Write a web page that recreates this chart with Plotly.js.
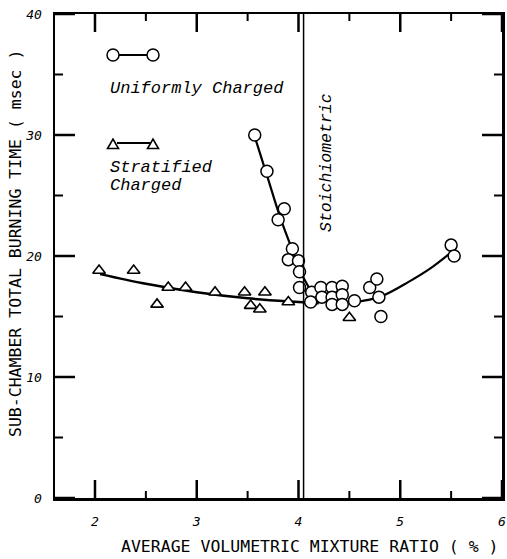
<!DOCTYPE html>
<html>
<head>
<meta charset="utf-8">
<script src="https://cdn.plot.ly/plotly-3.0.1.min.js"></script>
<style>html,body{margin:0;padding:0;background:#fff;}#chart{width:507px;height:559px;}</style>
</head>
<body>
<div id="chart"></div>
<script>
// Uniformly charged (circles)
var uniformX = [3.57, 3.69, 3.86, 3.80, 3.94, 3.90, 4.00, 4.01, 4.01, 4.13, 4.12, 4.22, 4.33, 4.43, 4.23, 4.33, 4.43, 4.33, 4.43, 4.55, 4.70, 4.77, 4.79, 4.81, 5.50, 5.53];
var uniformY = [30.0, 27.0, 23.9, 23.0, 20.6, 19.7, 19.6, 18.7, 17.4, 17.0, 16.2, 17.4, 17.4, 17.5, 16.6, 16.6, 16.8, 16.0, 16.0, 16.3, 17.4, 18.1, 16.6, 15.0, 20.9, 20.0];
// Stratified charged (triangles)
var stratX = [2.04, 2.38, 2.61, 2.72, 2.89, 3.18, 3.47, 3.53, 3.62, 3.67, 3.90, 4.50];
var stratY = [18.8, 18.8, 16.0, 17.4, 17.4, 17.0, 17.0, 15.9, 15.6, 17.0, 16.2, 14.9];
// Fitted curves
var uniformCurveX = [3.58, 3.70, 3.82, 3.94, 4.05, 4.15, 4.30, 4.50, 4.70, 4.85, 5.07, 5.30, 5.50];
var uniformCurveY = [29.6, 26.4, 23.2, 20.5, 18.2, 16.9, 16.3, 16.2, 16.4, 16.8, 17.8, 19.0, 20.3];
var stratCurveX = [2.05, 2.5, 3.0, 3.5, 4.0, 4.2];
var stratCurveY = [18.5, 17.7, 17.0, 16.5, 16.2, 16.1];
var stoichX = 4.05;
// Tick positions
var xMajor = [2, 3, 4, 5, 6];
var xMinor = [2.5, 3.5, 4.5, 5.5];
var yMajor = [0, 10, 20, 30, 40];
var yMinor = [5, 15, 25, 35];

var F = "DejaVu Sans Mono";
var PW = 447, PH = 484;
var traces = [
  {x: stratCurveX, y: stratCurveY, mode: 'lines', line: {color: '#000', width: 2.5, shape: 'spline'}, hoverinfo: 'skip'},
  {x: uniformCurveX, y: uniformCurveY, mode: 'lines', line: {color: '#000', width: 2.2, shape: 'spline'}, hoverinfo: 'skip'},
  {x: stratX, y: stratY, mode: 'markers', marker: {symbol: 'triangle-up', size: 11, color: '#fff', line: {color: '#000', width: 1.6}}},
  {x: uniformX, y: uniformY, mode: 'markers', marker: {symbol: 'circle', size: 12, color: '#fff', line: {color: '#000', width: 1.5}}}
];

function px(v) { return (v - 55) / PW; }
function py(v) { return (498 - v) / PH; }
function tri(cx, cy) {
  var s = 5.5;
  return 'M' + px(cx - s) + ',' + py(cy + 4.5) + ' L' + px(cx + s) + ',' + py(cy + 4.5) + ' L' + px(cx) + ',' + py(cy - 5) + ' Z';
}
var shapes = [
  {type: 'line', xref: 'x', yref: 'paper', x0: stoichX, x1: stoichX, y0: 0, y1: 1, line: {color: '#000', width: 1.5}},
  // legend samples
  {type: 'line', xref: 'paper', yref: 'paper', x0: px(118), x1: px(148), y0: py(55), y1: py(55), line: {color: '#000', width: 2}},
  {type: 'circle', xref: 'paper', yref: 'paper', x0: px(107), x1: px(119), y0: py(61), y1: py(49), fillcolor: '#fff', line: {color: '#000', width: 1.5}},
  {type: 'circle', xref: 'paper', yref: 'paper', x0: px(147), x1: px(159), y0: py(61), y1: py(49), fillcolor: '#fff', line: {color: '#000', width: 1.5}},
  {type: 'line', xref: 'paper', yref: 'paper', x0: px(117), x1: px(150), y0: py(143), y1: py(143), line: {color: '#000', width: 2}},
  {type: 'path', xref: 'paper', yref: 'paper', path: tri(113, 144), fillcolor: '#fff', line: {color: '#000', width: 1.6}},
  {type: 'path', xref: 'paper', yref: 'paper', path: tri(153, 144), fillcolor: '#fff', line: {color: '#000', width: 1.6}}
];
// inside tick marks on all four sides, placed through the axes
function xTick(v, len, w) {
  var f = len / PH;
  shapes.push({type: 'line', xref: 'x', yref: 'paper', x0: v, x1: v, y0: 0, y1: f, line: {color: '#000', width: w}});
  shapes.push({type: 'line', xref: 'x', yref: 'paper', x0: v, x1: v, y0: 1, y1: 1 - f, line: {color: '#000', width: w}});
}
function yTick(v, len, w) {
  var f = len / PW;
  shapes.push({type: 'line', xref: 'paper', yref: 'y', y0: v, y1: v, x0: 0, x1: f, line: {color: '#000', width: w}});
  shapes.push({type: 'line', xref: 'paper', yref: 'y', y0: v, y1: v, x0: 1, x1: 1 - f, line: {color: '#000', width: w}});
}
xMajor.forEach(function (v) { xTick(v, 18, 2.5); });
xMinor.forEach(function (v) { xTick(v, 7, 2); });
yMajor.forEach(function (v) { yTick(v, 20, 2.5); });
yMinor.forEach(function (v) { yTick(v, 8, 2); });

var italicFont = {family: "Liberation Mono", size: 17, color: '#000', style: 'italic'};
var stoichFont = {family: "Liberation Mono", size: 16.5, color: '#000', style: 'italic'};
var annotations = [
  {xref: 'paper', yref: 'paper', x: px(108), y: py(88), xanchor: 'left', yanchor: 'middle', text: 'Uniformly Charged', showarrow: false, font: italicFont},
  {xref: 'paper', yref: 'paper', x: px(108), y: py(167), xanchor: 'left', yanchor: 'middle', text: 'Stratified', showarrow: false, font: italicFont},
  {xref: 'paper', yref: 'paper', x: px(108), y: py(185), xanchor: 'left', yanchor: 'middle', text: 'Charged', showarrow: false, font: italicFont},
  {xref: 'paper', yref: 'paper', x: px(326), y: py(163), xanchor: 'center', yanchor: 'middle', text: 'Stoichiometric', textangle: -90, showarrow: false, font: stoichFont},
  {xref: 'paper', yref: 'paper', x: px(310), y: py(546), xanchor: 'center', yanchor: 'middle', text: 'AVERAGE VOLUMETRIC MIXTURE RATIO ( % )', showarrow: false, font: {family: F, size: 16.5, color: '#000'}},
  {xref: 'paper', yref: 'paper', x: px(15), y: py(244), xanchor: 'center', yanchor: 'middle', text: 'SUB-CHAMBER TOTAL BURNING TIME ( msec )', textangle: -90, showarrow: false, font: {family: F, size: 16.5, color: '#000'}}
];

var tickFont = {family: F, size: 13, color: '#000'};
var layout = {
  width: 507, height: 559,
  margin: {l: 55, r: 5, t: 14, b: 61},
  showlegend: false,
  xaxis: {
    range: [1.607, 6.0], tickmode: 'array', tickvals: xMajor, ticktext: xMajor.map(function (v) { return '<i>' + v + '</i>'; }),
    ticks: '', showline: true, linecolor: 'black', linewidth: 2.5, mirror: true,
    showgrid: false, zeroline: false, tickfont: tickFont, ticklabelstandoff: 10
  },
  yaxis: {
    range: [0, 40], tickmode: 'array', tickvals: yMajor, ticktext: yMajor.map(function (v) { return '<i>' + v + '</i>'; }),
    ticks: '', showline: true, linecolor: 'black', linewidth: 2.5, mirror: true,
    showgrid: false, zeroline: false, tickfont: tickFont, ticklabelstandoff: 8
  },
  shapes: shapes,
  annotations: annotations
};

Plotly.newPlot('chart', traces, layout, {displayModeBar: false, staticPlot: true});
</script>
</body>
</html>
